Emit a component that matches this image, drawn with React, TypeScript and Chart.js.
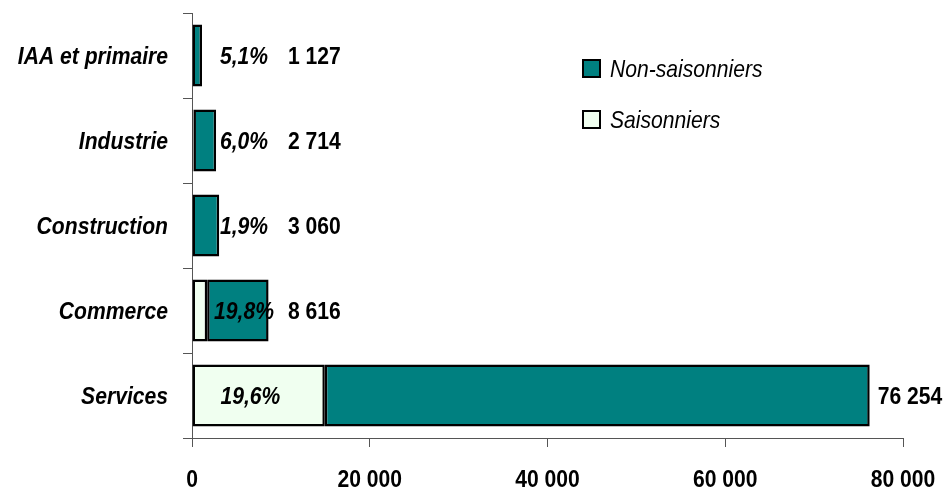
import React, { useEffect, useRef } from "react";
import { Chart, registerables } from "chart.js";

Chart.register(...registerables);

const categories = ["IAA et primaire", "Industrie", "Construction", "Commerce", "Services"];
const saisonniers = [57, 163, 58, 1706, 14946];
const nonSaisonniers = [1070, 2551, 3002, 6910, 61308];
const totals = [1127, 2714, 3060, 8616, 76254];
const seasonalPct = ["5,1%", "6,0%", "1,9%", "19,8%", "19,6%"];
const xTicks = [0, 20000, 40000, 60000, 80000];
const legendLabels = ["Non-saisonniers", "Saisonniers"];

const FONT = "'Liberation Sans', Arial, sans-serif";
const SX = 0.88;
const TEAL = "#008080";
const PALE = "#F0FFF0";
const AXIS = "#555";

const fmt = (v: number) => String(Math.round(v)).replace(/\B(?=(\d{3})+(?!\d))/g, " ");

function drawText(ctx: any, text: string, x: number, y: number, align: string, font: string) {
  ctx.save();
  ctx.translate(x, y);
  ctx.scale(SX, 1);
  ctx.font = font;
  ctx.textAlign = align;
  ctx.textBaseline = "alphabetic";
  ctx.fillStyle = "#000";
  ctx.fillText(text, 0, 0);
  ctx.restore();
}

const labelPlugin = {
  id: "labelPlugin",
  afterDraw(chart: any) {
    const { ctx, scales } = chart;
    const xs = scales.x;
    const ys = scales.y;
    const x0 = xs.getPixelForValue(0);
    const boldItalic = `italic bold 24px ${FONT}`;
    const italic = `italic 24px ${FONT}`;
    const bold = `bold 24px ${FONT}`;
    categories.forEach((c, i) => {
      const y = ys.getPixelForValue(i);
      drawText(ctx, c, x0 - 24, y + 8, "right", boldItalic);
      const pctX = Math.max(xs.getPixelForValue(saisonniers[i] / 2) - 8, x0 + 52);
      drawText(ctx, seasonalPct[i], pctX, y + 8, "center", boldItalic);
      const end = xs.getPixelForValue(totals[i]);
      const tx = Math.max(x0 + 96, end + 8);
      drawText(ctx, fmt(totals[i]), tx, y + 8, "left", bold);
    });
    xTicks.forEach((v) => {
      drawText(ctx, fmt(v), xs.getPixelForValue(v), ys.bottom + 49, "center", bold);
    });
    const colors = [TEAL, PALE];
    const lx = 583;
    const ly = [68, 119];
    legendLabels.forEach((lab, k) => {
      ctx.save();
      ctx.fillStyle = colors[k];
      ctx.fillRect(lx, ly[k] - 8, 17, 17);
      ctx.strokeStyle = "#000";
      ctx.lineWidth = 2;
      ctx.strokeRect(lx, ly[k] - 8, 17, 17);
      ctx.restore();
      drawText(ctx, lab, lx + 27, ly[k] + 9, "left", italic);
    });
  },
};

export default function App() {
  const ref = useRef<HTMLCanvasElement>(null);
  useEffect(() => {
    if (!ref.current) return;
    const chart = new Chart(ref.current, {
      type: "bar",
      data: {
        labels: categories,
        datasets: [
          {
            label: legendLabels[1],
            data: saisonniers,
            backgroundColor: PALE,
            borderColor: "#000",
            borderWidth: 2.5,
            borderSkipped: false,
            barPercentage: 0.73,
            categoryPercentage: 1,
          },
          {
            label: legendLabels[0],
            data: nonSaisonniers,
            backgroundColor: TEAL,
            borderColor: "#000",
            borderWidth: 2.5,
            borderSkipped: false,
            barPercentage: 0.73,
            categoryPercentage: 1,
          },
        ],
      },
      options: {
        indexAxis: "y",
        animation: false,
        responsive: false,
        maintainAspectRatio: false,
        layout: { padding: { top: 13, right: 44, left: 0, bottom: 0 } },
        plugins: { legend: { display: false }, tooltip: { enabled: false } },
        scales: {
          x: {
            stacked: true,
            min: 0,
            max: 80000,
            afterBuildTicks: (s: any) => {
              s.ticks = xTicks.map((v) => ({ value: v }));
            },
            afterFit: (s: any) => {
              s.height = 51;
            },
            border: { display: true, color: AXIS, width: 1 },
            grid: { drawOnChartArea: false, drawTicks: true, tickLength: 9, color: AXIS },
            ticks: { display: false },
          },
          y: {
            stacked: true,
            afterFit: (s: any) => {
              s.width = 192;
            },
            border: { display: true, color: AXIS, width: 1 },
            grid: { offset: true, drawOnChartArea: false, drawTicks: true, tickLength: 9, color: AXIS },
            ticks: { display: false },
          },
        },
      },
      plugins: [labelPlugin],
    });
    return () => chart.destroy();
  }, []);
  return (
    <div style={{ position: "fixed", left: 0, top: 0, width: 947, height: 489, background: "#fff" }}>
      <canvas ref={ref} width={947} height={489} style={{ width: 947, height: 489 }} />
    </div>
  );
}
